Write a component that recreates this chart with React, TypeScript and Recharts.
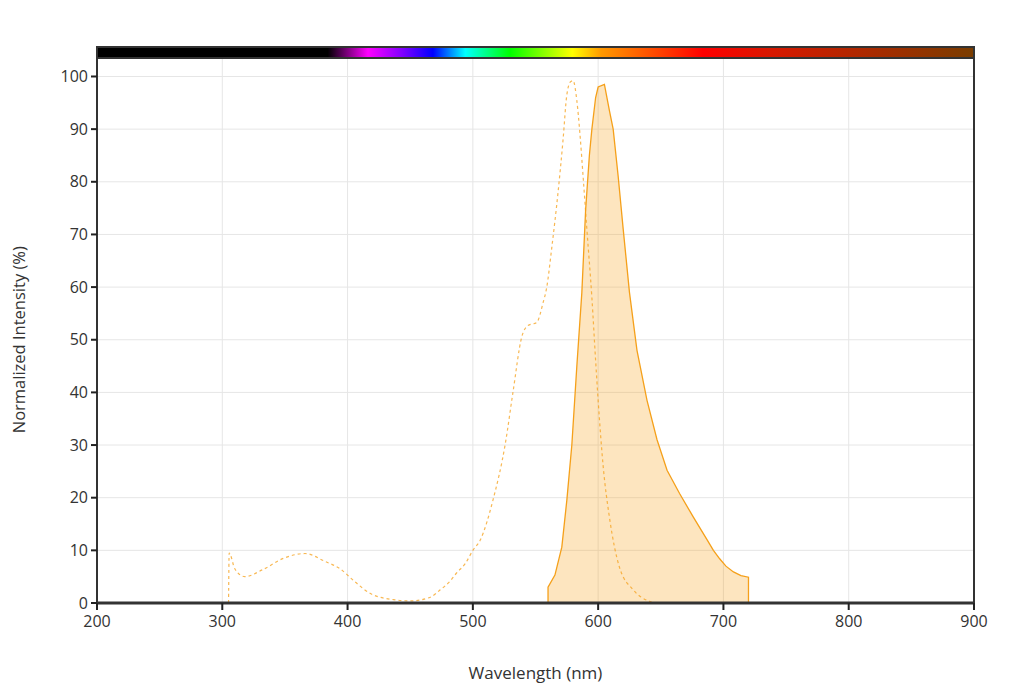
import React from 'react';
import { ComposedChart, Area, Line, XAxis, YAxis, CartesianGrid, ReferenceArea, ReferenceLine, Label } from 'recharts';

const exWavelength = [305, 305.5, 310, 318, 332, 350, 366, 382, 394, 406, 419, 438, 450, 466, 474, 482, 487, 494, 500, 506, 516, 526, 532, 539, 544, 551, 556, 559, 563, 568, 572, 575, 578, 580, 583, 585.5, 588, 591, 595, 598, 600, 604, 609, 617, 628, 641, 645];
const exIntensity = [0, 9.5, 6.5, 5, 6.3, 8.6, 9.4, 7.9, 6.5, 4, 1.7, 0.6, 0.4, 1.1, 2.5, 4.2, 5.7, 7.5, 10, 12, 19.5, 30.4, 40, 50.5, 52.7, 53.3, 57, 60, 67.5, 78, 88, 96.5, 99, 99.2, 95.4, 89, 81, 71, 58, 46, 38.5, 26, 16.3, 6.8, 2.5, 0.3, 0];

const emWavelength = [560, 560, 565.5, 571, 575, 579, 583, 587, 590, 593, 595, 598, 600, 605, 609, 612, 616, 620, 625, 631, 639, 647, 655, 665, 676, 687, 692, 697, 702, 708, 714, 720, 720];
const emIntensity = [0, 3, 5.3, 10.6, 19.5, 30, 45, 59, 74.6, 85, 90, 96, 98, 98.5, 93.5, 90, 81, 71, 59, 48, 38.5, 31, 25.2, 20.8, 16.3, 12, 10, 8.4, 7, 5.9, 5.2, 4.9, 0];

const xTicks = [200, 300, 400, 500, 600, 700, 800, 900];
const yTicks = [0, 10, 20, 30, 40, 50, 60, 70, 80, 90, 100];

const excitation = exWavelength.map((w, i) => ({ wl: w, ex: exIntensity[i] }));
const emission = emWavelength.map((w, i) => ({ wl: w, em: emIntensity[i] }));

const Y_MAX = 105.6;
const FONT = '"Open Sans", "Noto Sans", sans-serif';

const YTitle = (props: any) => {
  const vb = props.viewBox || {};
  const cx = 11;
  const cy = vb.y + vb.height * (1 - 50 / Y_MAX);
  return (
    <text x={cx} y={cy} transform={`rotate(-90, ${cx}, ${cy})`} textAnchor="middle" dominantBaseline="central" fill="#333" fontSize={16.5} fontFamily={FONT}>
      Normalized Intensity (%)
    </text>
  );
};

const XTitle = (props: any) => {
  const vb = props.viewBox || {};
  const cx = vb.x + vb.width / 2;
  const cy = 664;
  return (
    <text x={cx} y={cy} textAnchor="middle" dominantBaseline="central" fill="#333" fontSize={17} fontFamily={FONT}>
      Wavelength (nm)
    </text>
  );
};

export default function App() {
  return (
    <div style={{ width: 1006, height: 681, background: '#fff' }}>
      <ComposedChart width={1006} height={681} margin={{ top: 39, right: 40, bottom: 6, left: 0 }} style={{ overflow: 'visible' }}>
        <defs>
          <linearGradient id="rainbow" x1="0" y1="0" x2="1" y2="0">
            <stop offset="0" stopColor="#000000" />
            <stop offset="0.263" stopColor="#000000" />
            <stop offset="0.309" stopColor="#ff00ff" />
            <stop offset="0.348" stopColor="#8000ff" />
            <stop offset="0.383" stopColor="#0000ff" />
            <stop offset="0.42" stopColor="#00ffff" />
            <stop offset="0.471" stopColor="#00ff00" />
            <stop offset="0.542" stopColor="#ffff00" />
            <stop offset="0.575" stopColor="#ff9900" />
            <stop offset="0.64" stopColor="#ff4400" />
            <stop offset="0.691" stopColor="#ff0000" />
            <stop offset="0.769" stopColor="#d81800" />
            <stop offset="1" stopColor="#7a3d00" />
          </linearGradient>
        </defs>
        <CartesianGrid stroke="#e6e6e6" strokeWidth={1} horizontalValues={yTicks} verticalValues={xTicks} />
        <XAxis
          type="number"
          dataKey="wl"
          domain={[200, 900]}
          ticks={xTicks}
          allowDataOverflow
          height={80}
          tickSize={7}
          tickMargin={6}
          tick={{ fill: '#333', fontSize: 16, fontFamily: FONT }}
          axisLine={{ stroke: '#333', strokeWidth: 3 }}
          tickLine={{ stroke: '#222', strokeWidth: 2 }}
        >
          <Label content={<XTitle />} />
        </XAxis>
        <YAxis
          type="number"
          domain={[0, Y_MAX]}
          ticks={yTicks}
          allowDataOverflow
          width={89}
          tickSize={6}
          tickMargin={3}
          tick={{ fill: '#333', fontSize: 16, fontFamily: FONT }}
          axisLine={{ stroke: '#333', strokeWidth: 2 }}
          tickLine={{ stroke: '#222', strokeWidth: 2 }}
        >
          <Label content={<YTitle />} />
        </YAxis>
        <ReferenceLine x={900} stroke="#333" strokeWidth={2} ifOverflow="visible" />
        <Area
          data={emission}
          dataKey="em"
          type="linear"
          stroke="#f5a01a"
          strokeWidth={1.3}
          fill="#f8a21a"
          fillOpacity={0.28}
          isAnimationActive={false}
          dot={false}
          activeDot={false}
        />
        <Line
          data={excitation}
          dataKey="ex"
          type="monotone"
          stroke="#f5a01a"
          strokeOpacity={0.75}
          strokeWidth={1.2}
          strokeDasharray="3 3"
          isAnimationActive={false}
          dot={false}
          activeDot={false}
        />
        <ReferenceArea x1={200} x2={900} y1={103.5} y2={Y_MAX} fill="url(#rainbow)" fillOpacity={1} stroke="#333" strokeWidth={2} ifOverflow="visible" />
      </ComposedChart>
    </div>
  );
}
